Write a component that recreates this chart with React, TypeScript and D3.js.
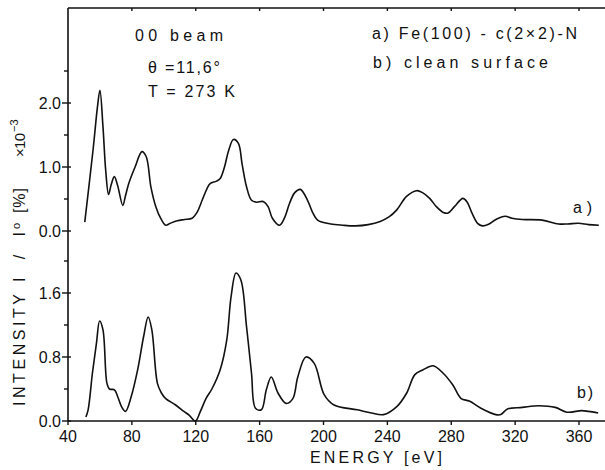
import React from "react";
import * as d3 from "d3";

// Curve a) Fe(100)-c(2x2)-N : [energy eV, intensity x10^-3 %]
const energyA = [50.5, 55.7, 58.5, 60, 61.9, 63.6, 65.4, 67, 69, 71, 74.3, 76, 78, 82, 86.3, 89, 91.9, 95, 98, 101.2, 104, 108.4, 113, 117.7, 121, 124, 127, 129, 133, 135.3, 138, 140.5, 143.6, 146.7, 149, 151.8, 154.9, 158, 162.2, 165.3, 168, 172.5, 175.5, 178.7, 182, 185.5, 190, 193, 196.3, 204.5, 212, 220, 228, 235.5, 241, 245.9, 252, 258.3, 262, 266.5, 270.7, 275, 278, 282, 287.3, 290, 293, 296.5, 299.6, 303, 308, 313.7, 318, 324.5, 336.9, 347.2, 353, 359.6, 366, 372.4];
const intensityA = [0.14, 1.27, 1.95, 2.2, 1.63, 0.95, 0.57, 0.72, 0.85, 0.72, 0.4, 0.55, 0.74, 1.0, 1.24, 1.16, 0.69, 0.38, 0.2, 0.09, 0.12, 0.16, 0.18, 0.2, 0.3, 0.48, 0.66, 0.74, 0.78, 0.82, 1.0, 1.25, 1.43, 1.37, 1.05, 0.69, 0.48, 0.45, 0.46, 0.38, 0.2, 0.09, 0.2, 0.43, 0.6, 0.65, 0.48, 0.3, 0.17, 0.11, 0.09, 0.08, 0.1, 0.15, 0.22, 0.33, 0.54, 0.63, 0.6, 0.51, 0.38, 0.29, 0.28, 0.38, 0.51, 0.45, 0.28, 0.12, 0.08, 0.1, 0.18, 0.23, 0.2, 0.18, 0.17, 0.11, 0.11, 0.12, 0.1, 0.09];

// Curve b) clean surface
const energyB = [51.2, 52.6, 55.3, 57.8, 59.8, 61.9, 64.4, 66, 69.1, 71.2, 73.5, 76, 79.5, 83.6, 87.3, 90.2, 92.5, 96, 98.5, 101.2, 107.4, 112.6, 116, 119.8, 122.9, 126.4, 130.1, 135.3, 139.4, 142.1, 145.2, 148.3, 151.8, 154.9, 157.4, 161.1, 164.2, 167.3, 171.5, 176.6, 180.8, 183.9, 189, 194.2, 200.4, 206.6, 221.1, 230, 237.6, 245.9, 252.1, 257.2, 262.4, 268.6, 274.8, 281, 286.2, 291.3, 298.6, 307.9, 311, 315.2, 324.5, 334.8, 345.1, 352.4, 361.7, 366, 372];
const intensityB = [0.05, 0.14, 0.6, 0.97, 1.25, 1.14, 0.47, 0.4, 0.39, 0.3, 0.18, 0.12, 0.3, 0.64, 1.05, 1.3, 1.14, 0.47, 0.35, 0.28, 0.2, 0.12, 0.07, 0.0, 0.12, 0.28, 0.4, 0.64, 1.01, 1.55, 1.85, 1.76, 1.18, 0.6, 0.16, 0.14, 0.39, 0.55, 0.35, 0.22, 0.28, 0.55, 0.8, 0.72, 0.33, 0.2, 0.14, 0.1, 0.08, 0.18, 0.35, 0.58, 0.64, 0.69, 0.6, 0.45, 0.28, 0.25, 0.16, 0.08, 0.08, 0.15, 0.17, 0.19, 0.17, 0.11, 0.13, 0.12, 0.1];

const xTicks = [40, 80, 120, 160, 200, 240, 280, 320, 360];
const topTicks = [80, 120, 160, 200, 240, 280, 320, 360];
const yTicksA = [0.0, 1.0, 2.0];
const yMinorA = [0.5, 1.5, 2.5];
const yTicksB = [0.0, 0.8, 1.6];
const yMinorB = [0.4, 1.2, 2.0];

const W = 605;
const H = 470;
const FONT = "'Liberation Sans', Arial, sans-serif";

export default function App() {
  const x = d3.scaleLinear().domain([40, 360]).range([68, 579]);
  const yA = d3.scaleLinear().domain([0, 2]).range([231, 103]);
  const yB = d3.scaleLinear().domain([0, 1.6]).range([421, 293]);
  const xEnd = 605;
  const left = x(40);
  const top = 8;
  const bottom = yB(0);

  const lineA = d3
    .line<number>()
    .x((_, i) => x(energyA[i]))
    .y((d) => yA(d))
    .curve(d3.curveCatmullRom.alpha(0.5));
  const lineB = d3
    .line<number>()
    .x((_, i) => x(energyB[i]))
    .y((d) => yB(d))
    .curve(d3.curveCatmullRom.alpha(0.5));

  const txt = { fontFamily: FONT, fill: "#111" } as const;

  const rotLabel = (s: React.ReactNode, y0: number, len: number, key: string, size = 16) => (
    <text
      key={key}
      transform={`translate(25,${y0}) rotate(-90)`}
      fontSize={size}
      textLength={len}
      lengthAdjust="spacing"
      style={txt}
    >
      {s}
    </text>
  );

  return (
    <svg
      width={W}
      height={H}
      style={{ position: "absolute", left: 0, top: 0, background: "#fff" }}
    >
      <rect x={0} y={0} width={W} height={H} fill="#fff" />
      {/* frame */}
      <line x1={left} x2={xEnd} y1={top} y2={top} stroke="#111" strokeWidth={1.6} />
      <line x1={left} x2={left} y1={top} y2={bottom} stroke="#111" strokeWidth={1.6} />
      <line x1={left} x2={xEnd} y1={bottom} y2={bottom} stroke="#111" strokeWidth={1.6} />

      {/* x ticks */}
      {xTicks.map((t) => (
        <g key={"xt" + t}>
          <line x1={x(t)} x2={x(t)} y1={bottom} y2={bottom + 4} stroke="#111" strokeWidth={1.4} />
          <text x={x(t)} y={442} fontSize={16} textAnchor="middle" style={txt}>
            {t}
          </text>
        </g>
      ))}
      {topTicks.map((t) => (
        <line key={"tt" + t} x1={x(t)} x2={x(t)} y1={top} y2={top + 3} stroke="#111" strokeWidth={1.4} />
      ))}

      {/* y ticks panel a */}
      {yTicksA.map((t) => (
        <g key={"ya" + t}>
          <line x1={left - 6} x2={left + 3} y1={yA(t)} y2={yA(t)} stroke="#111" strokeWidth={1.4} />
          <text x={61} y={yA(t) + 6} fontSize={16} textAnchor="end" style={txt}>
            {t.toFixed(1)}
          </text>
        </g>
      ))}
      {yMinorA.map((t) => (
        <line key={"yma" + t} x1={left - 4} x2={left} y1={yA(t)} y2={yA(t)} stroke="#111" strokeWidth={1.4} />
      ))}
      {/* y ticks panel b */}
      {yTicksB.map((t) => (
        <g key={"yb" + t}>
          <line x1={left - 6} x2={left + 3} y1={yB(t)} y2={yB(t)} stroke="#111" strokeWidth={1.4} />
          <text x={61} y={yB(t) + 6} fontSize={16} textAnchor="end" style={txt}>
            {t.toFixed(1)}
          </text>
        </g>
      ))}
      {yMinorB.map((t) => (
        <line key={"ymb" + t} x1={left - 4} x2={left} y1={yB(t)} y2={yB(t)} stroke="#111" strokeWidth={1.4} />
      ))}

      {/* curves */}
      <path d={lineA(intensityA) ?? ""} fill="none" stroke="#111" strokeWidth={1.6} strokeLinejoin="round" />
      <path d={lineB(intensityB) ?? ""} fill="none" stroke="#111" strokeWidth={1.6} strokeLinejoin="round" />

      {/* curve labels */}
      <text x={573} y={213} fontSize={16} textLength={19} lengthAdjust="spacing" style={txt}>a)</text>
      <text x={577} y={398} fontSize={16} textLength={16} lengthAdjust="spacing" style={txt}>b)</text>

      {/* annotations */}
      <text x={135} y={41} fontSize={16} textLength={88} lengthAdjust="spacing" style={txt}>00 beam</text>
      <text x={148} y={73} fontSize={16} textLength={72} lengthAdjust="spacing" style={txt}>θ =11,6°</text>
      <text x={148} y={97} fontSize={16} textLength={87} lengthAdjust="spacing" style={txt}>T = 273 K</text>
      <text x={372} y={39} fontSize={16} textLength={205} lengthAdjust="spacing" style={txt}>a) Fe(100) - c(2×2)-N</text>
      <text x={373} y={68} fontSize={16} textLength={175} lengthAdjust="spacing" style={txt}>b) clean surface</text>

      {/* axis titles */}
      <text x={310} y={463} fontSize={16} textLength={132} lengthAdjust="spacing" style={txt}>ENERGY [eV]</text>
      {rotLabel("INTENSITY", 406, 112, "l1")}
      {rotLabel("I / I", 282, 50, "l2")}
      <text transform="translate(20,229) rotate(-90)" fontSize={11} style={txt}>o</text>
      {rotLabel("[%]", 213, 25, "l3")}
      {rotLabel("×10", 157, 24, "l4", 15)}
      <text transform="translate(18,132) rotate(-90)" fontSize={11} style={txt}>−3</text>
    </svg>
  );
}
